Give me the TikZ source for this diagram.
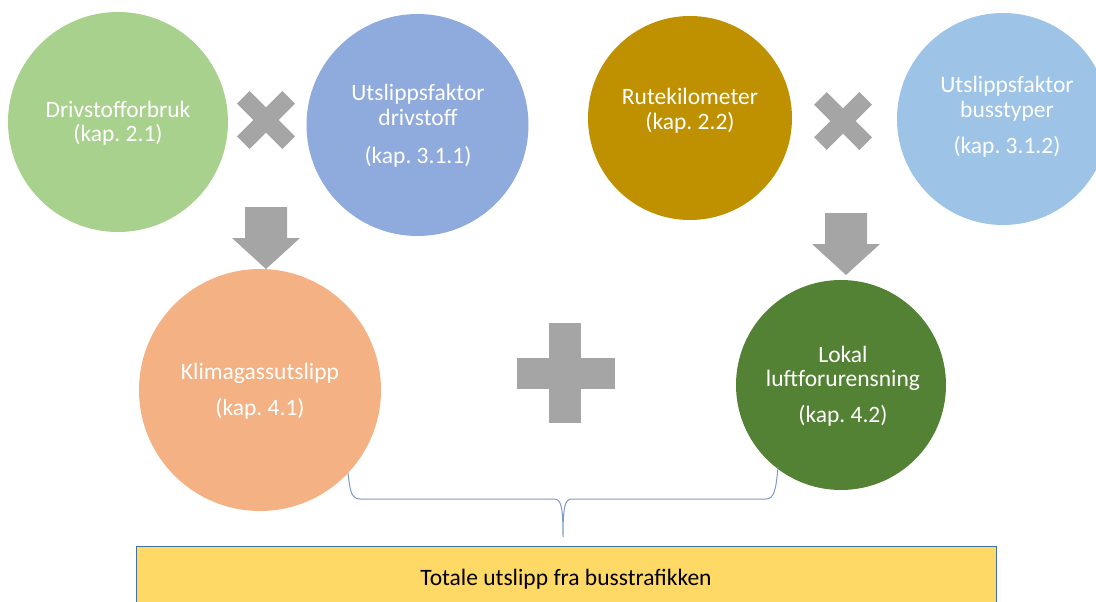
\documentclass[tikz,border=0pt]{standalone}
\usepackage{fontspec}
\setmainfont{Carlito}
\usepackage{tikz}
\frenchspacing
\definecolor{cFuel}{HTML}{A9D18E}
\definecolor{cEFuel}{HTML}{8FAADC}
\definecolor{cRoute}{HTML}{BF9000}
\definecolor{cEBus}{HTML}{9DC3E6}
\definecolor{cClimate}{HTML}{F4B183}
\definecolor{cLocal}{HTML}{548235}
\definecolor{cTotal}{HTML}{FFD966}
\definecolor{cTotalLine}{HTML}{41719C}
\definecolor{cBrace}{RGB}{125,152,205}
\definecolor{cOp}{HTML}{A5A5A5}
\tikzstyle{bubble} = [circle,inner sep=0pt,draw=none]
\tikzstyle{bubbletext} = [align=center,text=white,inner sep=0pt]
\tikzstyle{opshape} = [fill=cOp,draw=none]
\tikzstyle{totalbox} = [rectangle,fill=cTotal,draw=cTotalLine,line width=1pt,minimum width=860pt,minimum height=66pt,inner sep=0pt]
\newcommand{\DownArrowPath}{(-21,0) -- (21,0) -- (21,31) -- (34,31) -- (0,62) -- (-34,31) -- (-21,31) -- cycle}

\begin{document}
\begin{tikzpicture}
	[x=1pt,y=-1pt,font=\fontsize{23.5}{24.5}\selectfont]
	\useasboundingbox (0,0) rectangle (1096,602);

	% inputs, top row
	\node (fuel) [bubble,fill=cFuel,minimum size=220pt] at (118,122) {};
	\node (efuel) [bubble,fill=cEFuel,minimum size=222pt] at (417.5,125) {};
	\node (route) [bubble,fill=cRoute,minimum size=204pt] at (690,118) {};
	\node (ebus) [bubble,fill=cEBus,minimum size=212pt] at (1003,119) {};
	% results
	\node (climate) [bubble,fill=cClimate,minimum size=242pt] at (260,390) {};
	\node (local) [bubble,fill=cLocal,minimum size=210pt] at (841,385) {};

	\node (fueltxt) [bubbletext] at (118,123) {Drivstofforbruk\\(kap. 2.1)};
	\node (efueltxt) [bubbletext] at (418,126) {Utslippsfaktor\\drivstoff\\[14pt](kap. 3.1.1)};
	\node (routetxt) [bubbletext] at (690,110.5) {Rutekilometer\\(kap. 2.2)};
	\node (ebustxt) [bubbletext] at (1007,117) {Utslippsfaktor\\busstyper\\[12pt](kap. 3.1.2)};
	\node (climatetxt) [bubbletext] at (260,391) {Klimagassutslipp\\[12pt](kap. 4.1)};
	\node (localtxt) [bubbletext] at (843,386) {Lokal\\luftforurensning\\[11pt](kap. 4.2)};

	% operators
	\fill[opshape,shift={(266,120)},rotate=45] (-32,-9) rectangle (32,9);
	\fill[opshape,shift={(266,120)},rotate=-45] (-32,-9) rectangle (32,9);
	\fill[opshape,shift={(843,121)},rotate=45] (-32,-9) rectangle (32,9);
	\fill[opshape,shift={(843,121)},rotate=-45] (-32,-9) rectangle (32,9);
	\fill[opshape,shift={(266,207)}] \DownArrowPath;
	\fill[opshape,shift={(846,213)}] \DownArrowPath;
	\fill[opshape] (517,358) rectangle (615,389);
	\fill[opshape] (549,323) rectangle (581,423);

	\node (total) [totalbox] at (566,579) {Totale utslipp fra busstrafikken};

	% brace
	\coordinate (braceL) at (348,473);
	\coordinate (braceR) at (778,467);
	\coordinate (braceT) at (563,537);
	\draw[cBrace,line width=1pt] (braceL) .. controls (350,490) and (351,499) .. (360,499)
		-- (554,499) .. controls (561,499) and (563,506) .. (braceT)
		.. controls (563,506) and (565,499) .. (572,499)
		-- (766,499) .. controls (774,499) and (776,490) .. (braceR);
\end{tikzpicture}
\end{document}
